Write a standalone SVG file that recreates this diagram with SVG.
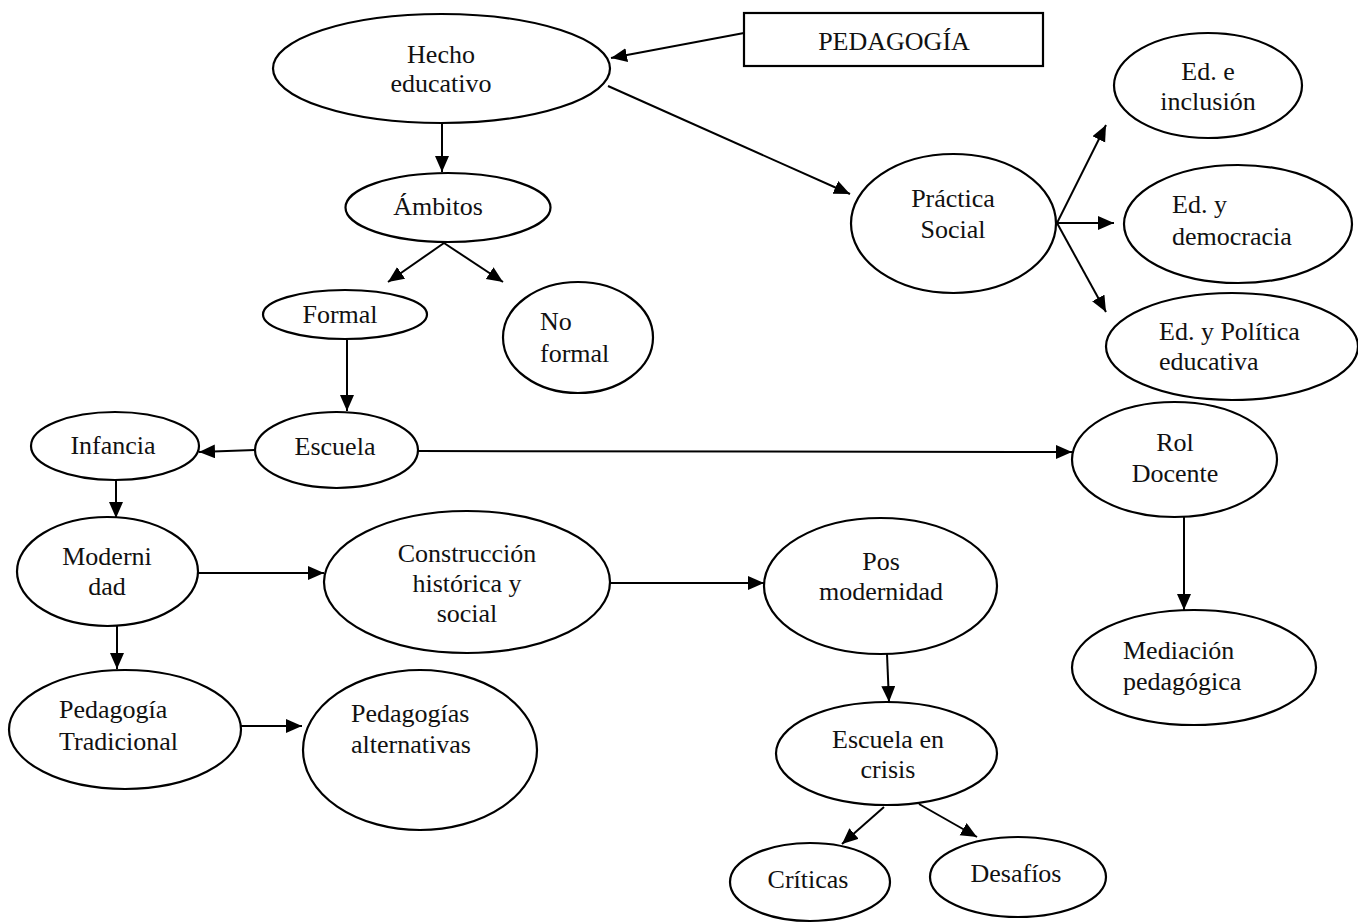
<svg xmlns="http://www.w3.org/2000/svg" width="1358" height="923" viewBox="0 0 1358 923">
<style>
.n{fill:#fff;stroke:#000;stroke-width:2.2}
.t{font-family:'Liberation Serif','Times New Roman','DejaVu Serif',serif;font-size:26px;fill:#111}
.c{text-anchor:middle}
.e{fill:none;stroke:#000;stroke-width:2;marker-end:url(#ah)}
</style>
<defs>
<marker id="ah" markerUnits="userSpaceOnUse" markerWidth="17" markerHeight="15" refX="16" refY="7" orient="auto">
<path d="M0,0 L16,7 L0,14 z" fill="#000"/>
</marker>
</defs>
<rect width="1358" height="923" fill="#fff"/>
<g id="connectors">
<line class="e" x1="744" y1="33" x2="611" y2="58"/>
<line class="e" x1="608" y1="86" x2="850" y2="194"/>
<line class="e" x1="442" y1="123" x2="442" y2="172"/>
<line class="e" x1="444" y1="243" x2="388" y2="282"/>
<line class="e" x1="444" y1="243" x2="503" y2="282"/>
<line class="e" x1="347" y1="340" x2="347" y2="411"/>
<line class="e" x1="255" y1="450" x2="199" y2="452"/>
<line class="e" x1="418" y1="451" x2="1072" y2="452"/>
<line class="e" x1="116" y1="480" x2="116" y2="518"/>
<line class="e" x1="198" y1="573" x2="324" y2="573"/>
<line class="e" x1="117" y1="626" x2="117" y2="669"/>
<line class="e" x1="241" y1="726" x2="302" y2="726"/>
<line class="e" x1="610" y1="583" x2="764" y2="583"/>
<line class="e" x1="887" y1="654" x2="889" y2="702"/>
<line class="e" x1="884" y1="807" x2="842" y2="844"/>
<line class="e" x1="919" y1="804" x2="977" y2="837"/>
<line class="e" x1="1057" y1="223" x2="1106" y2="125"/>
<line class="e" x1="1057" y1="223" x2="1114" y2="223"/>
<line class="e" x1="1057" y1="223" x2="1106" y2="312"/>
<line class="e" x1="1184" y1="517" x2="1184" y2="610"/>
</g>
<g id="pedagogia"><rect class="n" x="744" y="13" width="299" height="53"/><text class="t c" x="894" y="50">PEDAGOGÍA</text></g>
<g id="hecho"><ellipse class="n" cx="441.5" cy="68.5" rx="168.5" ry="54.5"/><text class="t c" x="441" y="63">Hecho</text><text class="t c" x="441" y="92">educativo</text></g>
<g id="ambitos"><ellipse class="n" cx="448" cy="207.5" rx="102.5" ry="34.5"/><text class="t c" x="438" y="215">Ámbitos</text></g>
<g id="formal"><ellipse class="n" cx="345" cy="314.5" rx="82" ry="24.5"/><text class="t c" x="340" y="323">Formal</text></g>
<g id="noformal"><ellipse class="n" cx="578" cy="337.5" rx="75" ry="55.5"/><text class="t" x="540" y="330">No</text><text class="t" x="540" y="362">formal</text></g>
<g id="escuela"><ellipse class="n" cx="336.5" cy="450" rx="81.5" ry="38"/><text class="t c" x="335" y="455">Escuela</text></g>
<g id="infancia"><ellipse class="n" cx="115" cy="446" rx="84" ry="34"/><text class="t c" x="113" y="454">Infancia</text></g>
<g id="modernidad"><ellipse class="n" cx="107.5" cy="571.5" rx="90.5" ry="54.5"/><text class="t c" x="107" y="565">Moderni</text><text class="t c" x="107" y="595">dad</text></g>
<g id="construccion"><ellipse class="n" cx="467" cy="582" rx="143" ry="71"/><text class="t c" x="467" y="562">Construcción</text><text class="t c" x="467" y="592">histórica y</text><text class="t c" x="467" y="622">social</text></g>
<g id="pedtrad"><ellipse class="n" cx="125" cy="729.5" rx="116" ry="59.5"/><text class="t" x="59" y="718">Pedagogía</text><text class="t" x="59" y="750">Tradicional</text></g>
<g id="pedalt"><ellipse class="n" cx="420" cy="750" rx="117" ry="80"/><text class="t" x="351" y="722">Pedagogías</text><text class="t" x="351" y="753">alternativas</text></g>
<g id="posmodernidad"><ellipse class="n" cx="880.5" cy="586" rx="116.5" ry="68"/><text class="t c" x="881" y="570">Pos</text><text class="t c" x="881" y="600">modernidad</text></g>
<g id="crisis"><ellipse class="n" cx="886.5" cy="753.5" rx="110.5" ry="51.5"/><text class="t c" x="888" y="748">Escuela en</text><text class="t c" x="888" y="778">crisis</text></g>
<g id="criticas"><ellipse class="n" cx="810" cy="882" rx="80" ry="39"/><text class="t c" x="808" y="888">Críticas</text></g>
<g id="desafios"><ellipse class="n" cx="1018" cy="877" rx="88" ry="40"/><text class="t c" x="1016" y="882">Desafíos</text></g>
<g id="practica"><ellipse class="n" cx="953.5" cy="223.5" rx="102.5" ry="69.5"/><text class="t c" x="953" y="207">Práctica</text><text class="t c" x="953" y="238">Social</text></g>
<g id="inclusion"><ellipse class="n" cx="1208" cy="85.5" rx="94" ry="52.5"/><text class="t c" x="1208" y="80">Ed. e</text><text class="t c" x="1208" y="110">inclusión</text></g>
<g id="democracia"><ellipse class="n" cx="1238" cy="224" rx="114" ry="59"/><text class="t" x="1172" y="213">Ed. y</text><text class="t" x="1172" y="245">democracia</text></g>
<g id="politica"><ellipse class="n" cx="1232" cy="346.5" rx="126" ry="53.5"/><text class="t" x="1159" y="340">Ed. y Política</text><text class="t" x="1159" y="370">educativa</text></g>
<g id="rol"><ellipse class="n" cx="1174.5" cy="459.5" rx="102.5" ry="57.5"/><text class="t c" x="1175" y="451">Rol</text><text class="t c" x="1175" y="482">Docente</text></g>
<g id="mediacion"><ellipse class="n" cx="1194" cy="667.5" rx="122" ry="57.5"/><text class="t" x="1123" y="659">Mediación</text><text class="t" x="1123" y="690">pedagógica</text></g>
</svg>
